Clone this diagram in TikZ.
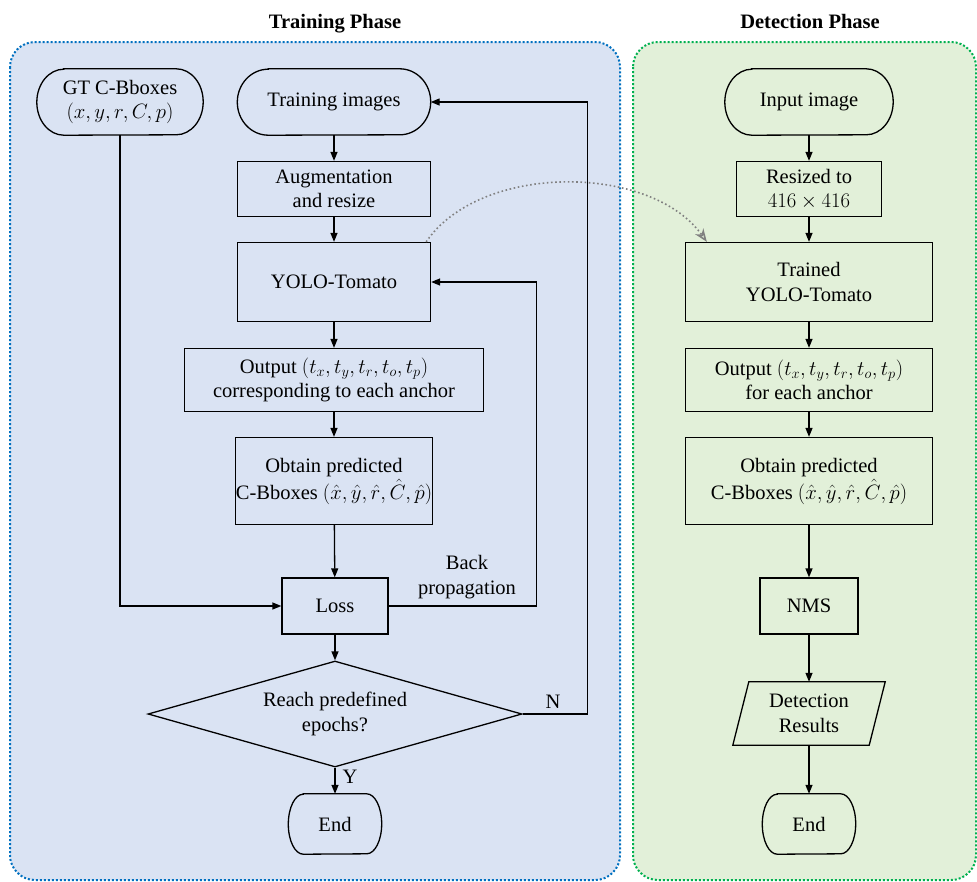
\documentclass[tikz,border=0pt]{standalone}
\usepackage{fontspec}
\setmainfont{Liberation Serif}
\usetikzlibrary{arrows.meta,shapes.geometric,calc}
\definecolor{bluefill}{HTML}{DAE3F3}
\definecolor{blueline}{HTML}{0070C0}
\definecolor{greenfill}{HTML}{E2F0D9}
\definecolor{greenline}{HTML}{00B050}
\definecolor{arrowgray}{HTML}{808080}
\newcommand{\termpath}[3]{%
  \draw[shapeline] ([xshift=#2pt]#1.north west) -- ([xshift=-#2pt]#1.north east)
    arc[start angle=90,end angle=-90,x radius=#2pt,y radius=#3pt]
    -- ([xshift=#2pt]#1.south west)
    arc[start angle=270,end angle=90,x radius=#2pt,y radius=#3pt] -- cycle;}
\tikzset{
  txt/.style={font=\fontsize{20.5}{24.5}\selectfont, align=center, inner sep=0pt},
  txtwide/.style={font=\fontsize{20.5}{27}\selectfont, align=center, inner sep=0pt},
  shapeline/.style={draw=black, line width=1.3pt},
  boxn/.style={txt, shapeline},
  boxw/.style={txtwide, shapeline},
  plain/.style={txt},
  arr/.style={line width=1.3pt, -{Triangle[length=9pt,width=7pt]}},
  grayarr/.style={draw=arrowgray, line width=1.6pt, dash pattern=on 1.6pt off 2.6pt,
    -{Stealth[open,length=13pt,width=10pt,inset=4pt]}},
  bluepanel/.style={draw=blueline, fill=bluefill, line width=2pt, dash pattern=on 2pt off 2pt, rounded corners=25pt},
  greenpanel/.style={draw=greenline, fill=greenfill, line width=2pt, dash pattern=on 2pt off 2pt, rounded corners=25pt},
  titletxt/.style={txt, font=\fontsize{20.5}{24.5}\selectfont\bfseries, anchor=base}
}
\begin{document}
\begin{tikzpicture}[x=1pt,y=-1pt]
\useasboundingbox (0,0) rectangle (977,881);
% panels
\path[bluepanel] (10,42) rectangle (620,880);
\path[greenpanel] (633,42) rectangle (976,880);
% titles
\node[titletxt] (ttrain) at (335,28) {Training Phase};
\node[titletxt] (tdet) at (810,28) {Detection Phase};
% training column
\node[plain, minimum width=166pt, minimum height=66pt] (gt) at (120,102) {GT C-Bboxes\\$(x,y,r,C,p)$};
\termpath{gt}{27}{33}
\node[plain, minimum width=193pt, minimum height=66pt] (train) at (334,102) {Training images};
\termpath{train}{31}{33}
\node[boxn, minimum width=193pt, minimum height=55pt] (aug) at (334,189) {Augmentation\\and resize};
\node[boxn, minimum width=193pt, minimum height=79pt] (yolo) at (334,282) {YOLO-Tomato};
\node[boxn, minimum width=299pt, minimum height=63pt] (out) at (334,380) {Output $(t_x,t_y,t_r,t_o,t_p)$\\corresponding to each anchor};
\node[boxw, minimum width=193pt, minimum height=87pt] (obt) at (334,481) {Obtain predicted\\C-Bboxes $(\hat{x},\hat{y},\hat{r},\hat{C},\hat{p})$};
\node[boxn, minimum width=106pt, minimum height=56pt] (loss) at (335,606) {Loss};
\node[txt, shapeline, diamond, aspect=3.53, minimum width=374pt, minimum height=106pt] (diam) at (335,714) {Reach predefined\\epochs?};
\node[plain, minimum width=93pt, minimum height=60pt] (end1) at (335,824) {End};
\termpath{end1}{15}{30}
% detection column
\node[plain, minimum width=168pt, minimum height=66pt] (inp) at (809,102) {Input image};
\termpath{inp}{27}{33}
\node[boxn, minimum width=145pt, minimum height=55pt] (rsz) at (809,189) {Resized to\\$416\times416$};
\node[boxn, minimum width=247pt, minimum height=79pt] (tyolo) at (809,282) {Trained\\YOLO-Tomato};
\node[boxn, minimum width=247pt, minimum height=63pt] (tout) at (809,380) {Output $(t_x,t_y,t_r,t_o,t_p)$\\for each anchor};
\node[boxw, minimum width=247pt, minimum height=87pt] (tobt) at (809,481) {Obtain predicted\\C-Bboxes $(\hat{x},\hat{y},\hat{r},\hat{C},\hat{p})$};
\node[boxn, minimum width=98pt, minimum height=56pt] (nms) at (809,606) {NMS};
\node[plain, minimum width=152pt, minimum height=63pt] (det) at (809,713.5) {Detection\\Results};
\draw[shapeline] (det.south west) -- ([xshift=-16pt]det.south east) -- (det.north east) -- ([xshift=16pt]det.north west) -- cycle;
\node[plain, minimum width=93pt, minimum height=60pt] (end2) at (809,824) {End};
\termpath{end2}{15}{30}
% labels
\node[txt] (bplabel) at (467,577) {Back\\propagation};
\node[txt] (nlabel) at (553,702) {N};
\node[txt] (ylabel) at (350,777) {Y};
% training connectors
\draw[arr] (train) -- (aug);
\draw[arr] (aug) -- (yolo);
\draw[arr] (yolo) -- (out);
\draw[arr] (out) -- (obt);
\draw[arr] (obt) -- (loss);
\draw[arr] (gt.south) |- (loss.west);
\draw[arr] (loss.east) -- ++(148,0) |- (yolo.east);
\draw[arr] (loss) -- (diam);
\draw[arr] (diam.east) -- ++(65,0) |- (train.east);
\draw[arr] (diam.south) -- (end1.north);
% detection connectors
\draw[arr] (inp) -- (rsz);
\draw[arr] (rsz) -- (tyolo);
\draw[arr] (tyolo) -- (tout);
\draw[arr] (tout) -- (tobt);
\draw[arr] (tobt) -- (nms);
\draw[arr] (nms) -- (det);
\draw[arr] (det) -- (end2);
% transfer arrow
\draw[grayarr] ([xshift=-5pt]yolo.north east) .. controls (480,163) and (650,163) .. ([xshift=22pt]tyolo.north west);
\end{tikzpicture}
\end{document}
